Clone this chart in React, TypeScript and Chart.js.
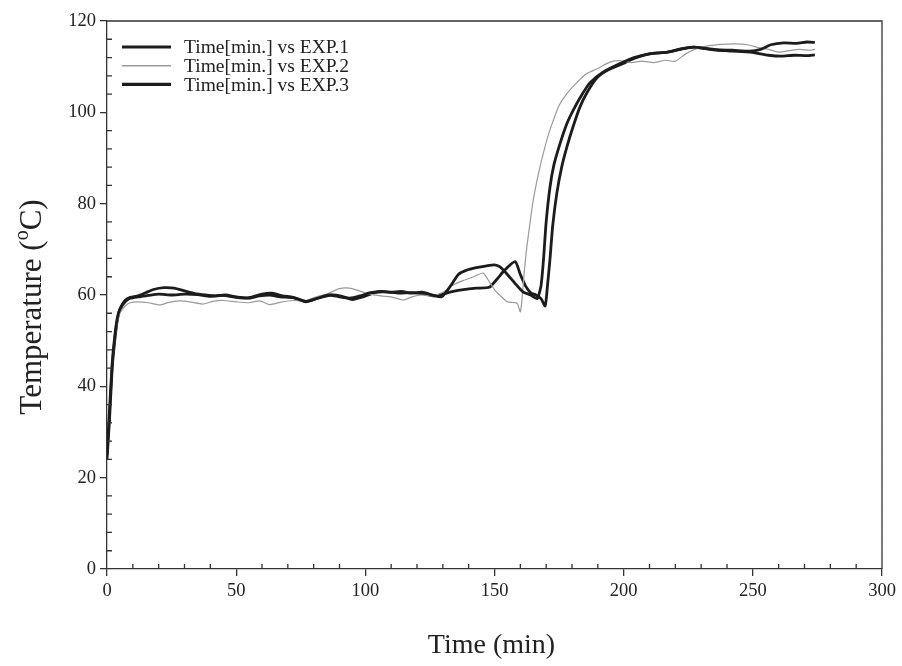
import React, { useEffect, useRef } from 'react';
import { Chart, registerables } from 'chart.js';
Chart.register(...registerables);

const FONT = '"Liberation Serif", "Times New Roman", serif';

const exp1Time = [0, 1, 2, 3, 4, 5, 7, 9, 12, 15, 18, 22, 26, 30, 34, 38, 42, 46, 50, 55, 60, 64, 68, 72, 77, 81, 86, 90, 94, 98, 102, 106, 110, 114, 118, 122, 126, 129.5, 133, 136, 139, 143, 147, 150, 152, 155, 158, 161, 164, 166.5, 168, 169, 170, 171.5, 173, 175.4, 178, 180.5, 184, 187, 192, 198.6, 204, 210, 217, 222, 227, 232, 236, 242, 249, 253, 257, 262, 267, 271, 274];
const exp1Temp = [25, 35, 45, 51, 55, 57, 58.8, 59.5, 59.8, 60.5, 61.2, 61.6, 61.5, 60.9, 60.3, 60.0, 59.8, 60.0, 59.6, 59.4, 60.2, 60.4, 59.8, 59.5, 58.6, 59.2, 60.0, 59.6, 59.3, 59.8, 60.5, 60.8, 60.6, 60.8, 60.4, 60.6, 60.0, 59.6, 62, 64.5, 65.4, 66, 66.4, 66.6, 66.2, 64.5, 62.5, 60.7, 60, 59.2, 62, 68, 76, 83.7, 88.5, 93.2, 97.5, 100.5, 104, 106.5, 108.8, 110.7, 112, 112.8, 113.2, 113.8, 114.3, 114, 113.7, 113.6, 113.4, 113.8, 114.8, 115.2, 115.1, 115.4, 115.3];

const exp2Time = [0, 1, 2, 3, 4, 5, 7, 9, 12, 16, 20.5, 24, 28, 32, 37, 41, 45, 50, 55, 59, 63, 67, 72, 77, 81, 85, 90, 94, 97, 101, 106, 110, 114.7, 118, 122, 126, 130, 134, 138, 142, 145.6, 148.3, 150, 152, 155, 158.7, 160, 160.8, 161.5, 162.5, 163.8, 165, 167, 168.9, 170.8, 172.8, 175, 178, 181.5, 185.7, 190, 194.7, 199, 203, 207, 212, 216, 220, 224, 228, 233, 238, 243, 248, 252, 256, 260, 264, 268, 272, 274];
const exp2Temp = [26, 36, 44, 50, 54, 56, 57.6, 58.3, 58.5, 58.3, 57.8, 58.4, 58.7, 58.5, 58.0, 58.6, 58.8, 58.5, 58.3, 58.7, 57.9, 58.4, 58.8, 58.7, 59.6, 60.2, 61.4, 61.5, 61.0, 60.3, 59.8, 59.6, 58.9, 59.6, 60.0, 59.8, 60.6, 62.2, 63.2, 64.0, 64.8, 62.6, 61.2, 60, 58.5, 58.2, 56.3, 60, 65, 70.5, 76, 80.8, 86.5, 91, 95, 98.3, 101.5, 104.1, 106.3, 108.5, 109.6, 111, 111.3, 110.9, 111.2, 110.9, 111.4, 111.2, 112.8, 113.9, 114.6, 114.9, 115.0, 114.8, 114.2, 113.8, 113.2, 113.5, 113.8, 113.6, 113.8];

const exp3Time = [0, 1, 2, 3, 4, 5, 7, 9, 12, 16, 20, 25, 30, 35, 40, 45, 50, 55, 59, 63, 67, 72, 77, 82, 87, 91, 95, 99, 104, 108, 113, 118, 123, 127, 130, 134, 138, 143, 148, 151, 154, 158, 160, 162, 164, 166, 168, 169.6, 170.5, 171.5, 172.5, 174.1, 176, 178, 180.5, 183.1, 186, 189.6, 194, 199.8, 204, 210, 217, 222, 227, 232, 236, 242, 249, 252, 256, 261, 266, 271, 274];
const exp3Temp = [24, 33, 44, 50, 54.5, 56.8, 58.5, 59.3, 59.6, 59.9, 60.2, 60.0, 60.2, 60.1, 59.7, 59.9, 59.5, 59.3, 59.8, 60.0, 59.6, 59.4, 58.5, 59.4, 60.0, 59.7, 59.0, 59.6, 60.6, 60.7, 60.4, 60.5, 60.2, 59.8, 60.2, 60.8, 61.2, 61.5, 61.7, 63.5, 65.5, 67.3, 64.5, 62, 60.5, 60, 59.2, 57.6, 62, 68, 75, 82.2, 88, 92.4, 97, 101.2, 104.5, 107.5, 109.3, 110.7, 111.8, 112.8, 113.2, 113.9, 114.3, 113.9, 113.6, 113.4, 113.2, 112.9, 112.5, 112.3, 112.5, 112.4, 112.6];

const seriesLabels = ['Time[min.] vs EXP.1', 'Time[min.] vs EXP.2', 'Time[min.] vs EXP.3'];
const seriesColors = ['#1c1c1c', '#9a9a9a', '#1c1c1c'];
const seriesWidths = [2.8, 1.2, 2.8];

const xMin = 0, xMax = 300, xStep = 50, xMinorStep = 10;
const yMin = 0, yMax = 120, yStep = 20, yMinorStep = 4;
const xTitle = 'Time (min)';
const yTitleMain = 'Temperature (';
const yTitleSup = 'o';
const yTitleEnd = 'C)';

const zip = (t: number[], v: number[]) => t.map((x, i) => ({ x, y: v[i] }));

const decorPlugin = {
  id: 'decor',
  afterDraw(chart: any) {
    const { ctx, chartArea: ca } = chart;
    const xs = chart.scales.x;
    const ys = chart.scales.y;
    ctx.save();
    ctx.strokeStyle = '#333';
    ctx.lineWidth = 1.3;
    ctx.beginPath();
    ctx.moveTo(ca.left, ca.top);
    ctx.lineTo(ca.right, ca.top);
    ctx.lineTo(ca.right, ca.bottom);
    for (let v = xMin + xMinorStep; v < xMax; v += xMinorStep) {
      if (v % xStep === 0) continue;
      const px = xs.getPixelForValue(v);
      ctx.moveTo(px, ca.bottom);
      ctx.lineTo(px, ca.bottom - 5);
    }
    for (let v = yMin + yMinorStep; v < yMax; v += yMinorStep) {
      if (v % yStep === 0) continue;
      const py = ys.getPixelForValue(v);
      ctx.moveTo(ca.left, py);
      ctx.lineTo(ca.left + 5, py);
    }
    ctx.stroke();

    // legend
    ctx.font = `19.5px ${FONT}`;
    ctx.textBaseline = 'middle';
    ctx.textAlign = 'left';
    seriesLabels.forEach((lab, i) => {
      const yy = ca.top + 26 + i * 18.7;
      ctx.beginPath();
      ctx.strokeStyle = seriesColors[i];
      ctx.lineWidth = seriesWidths[i] + 0.3;
      ctx.moveTo(ca.left + 15, yy);
      ctx.lineTo(ca.left + 64, yy);
      ctx.stroke();
      ctx.fillStyle = '#222';
      ctx.fillText(lab, ca.left + 77, yy + 1);
    });

    // x title
    ctx.font = `28px ${FONT}`;
    ctx.textAlign = 'center';
    ctx.fillStyle = '#222';
    ctx.fillText(xTitle, (ca.left + ca.right) / 2 - 3, 646);

    // y title with superscript
    ctx.translate(33, (ca.top + ca.bottom) / 2 + 12);
    ctx.rotate(-Math.PI / 2);
    const mainFont = `31px ${FONT}`;
    const supFont = `20px ${FONT}`;
    ctx.font = mainFont;
    const w1 = ctx.measureText(yTitleMain).width;
    const w3 = ctx.measureText(yTitleEnd).width;
    ctx.font = supFont;
    const w2 = ctx.measureText(yTitleSup).width;
    const total = w1 + w2 + w3;
    let cx = -total / 2;
    ctx.textAlign = 'left';
    ctx.font = mainFont;
    ctx.fillText(yTitleMain, cx, 0);
    cx += w1;
    ctx.font = supFont;
    ctx.fillText(yTitleSup, cx, -10);
    cx += w2;
    ctx.font = mainFont;
    ctx.fillText(yTitleEnd, cx, 0);
    ctx.restore();
  },
};

export default function App() {
  const ref = useRef<HTMLCanvasElement | null>(null);
  useEffect(() => {
    if (!ref.current) return;
    const chart = new Chart(ref.current, {
      type: 'line',
      data: {
        datasets: [
          { label: seriesLabels[0], data: zip(exp1Time, exp1Temp), borderColor: seriesColors[0], borderWidth: seriesWidths[0], pointRadius: 0, tension: 0.2, fill: false },
          { label: seriesLabels[1], data: zip(exp2Time, exp2Temp), borderColor: seriesColors[1], borderWidth: seriesWidths[1], pointRadius: 0, tension: 0.2, fill: false },
          { label: seriesLabels[2], data: zip(exp3Time, exp3Temp), borderColor: seriesColors[2], borderWidth: seriesWidths[2], pointRadius: 0, tension: 0.2, fill: false },
        ],
      },
      options: {
        animation: false,
        responsive: true,
        maintainAspectRatio: false,
        parsing: false,
        layout: { padding: { top: 21, right: 20, left: 0, bottom: 0 } },
        plugins: { legend: { display: false }, tooltip: { enabled: false } },
        scales: {
          x: {
            type: 'linear',
            min: xMin,
            max: xMax,
            ticks: { stepSize: xStep, color: '#222', font: { family: FONT, size: 18.5 }, padding: 4, maxRotation: 0 },
            grid: { display: true, drawOnChartArea: false, drawTicks: true, tickLength: 7, color: '#333', lineWidth: 1.3 },
            border: { display: true, color: '#333', width: 1.3 },
            afterFit: (s: any) => { s.height = 97; },
          },
          y: {
            type: 'linear',
            min: yMin,
            max: yMax,
            ticks: { stepSize: yStep, color: '#222', font: { family: FONT, size: 18.5 }, padding: 4 },
            grid: { display: true, drawOnChartArea: false, drawTicks: true, tickLength: 7, color: '#333', lineWidth: 1.3 },
            border: { display: true, color: '#333', width: 1.3 },
            afterFit: (s: any) => { s.width = 107; },
          },
        },
      } as any,
      plugins: [decorPlugin],
    });
    return () => chart.destroy();
  }, []);
  return (
    <div style={{ position: 'fixed', left: 0, top: 0, width: 902, height: 666, background: '#fff' }}>
      <canvas ref={ref} />
    </div>
  );
}
